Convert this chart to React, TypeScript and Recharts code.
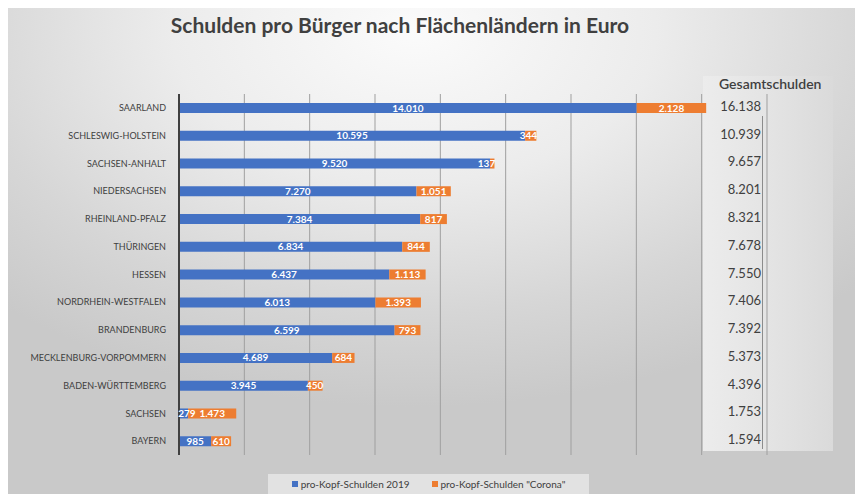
import React from "react";
import { BarChart, Bar, XAxis, YAxis, CartesianGrid, LabelList, Legend } from "recharts";

const states = [
  "SAARLAND",
  "SCHLESWIG-HOLSTEIN",
  "SACHSEN-ANHALT",
  "NIEDERSACHSEN",
  "RHEINLAND-PFALZ",
  "THÜRINGEN",
  "HESSEN",
  "NORDRHEIN-WESTFALEN",
  "BRANDENBURG",
  "MECKLENBURG-VORPOMMERN",
  "BADEN-WÜRTTEMBERG",
  "SACHSEN",
  "BAYERN",
];
const debt2019 = [14010, 10595, 9520, 7270, 7384, 6834, 6437, 6013, 6599, 4689, 3945, 279, 985];
const debtCorona = [2128, 344, 137, 1051, 817, 844, 1113, 1393, 793, 684, 450, 1473, 610];
const totals = [16138, 10939, 9657, 8201, 8321, 7678, 7550, 7406, 7392, 5373, 4396, 1753, 1594];
const xTicks = [0, 2000, 4000, 6000, 8000, 10000, 12000, 14000, 16000];
const seriesNames = ["pro-Kopf-Schulden 2019", 'pro-Kopf-Schulden "Corona"'];

const fmt = (n: number) => String(n).replace(/\B(?=(\d{3})+(?!\d))/g, ".");

const data = states.map((s, i) => ({
  state: s,
  v2019: debt2019[i],
  vCorona: debtCorona[i],
  total: fmt(totals[i]),
}));

const FONT = "Lato, 'Open Sans', sans-serif";
const TEXT = "#404040";

// label centred on its segment, but kept inside the whole stacked bar
const makeLabel = (series: "a" | "b") => (props: any) => {
  const { x, y, width, height, value, index } = props;
  const row = data[index];
  const scale = width / value;
  const start = series === "a" ? x : x - row.v2019 * scale;
  const end = start + (row.v2019 + row.vCorona) * scale;
  const text = fmt(value);
  const w = text.length * 5.3;
  let cx = x + width / 2;
  if (cx + w / 2 > end) cx = end - w / 2;
  if (cx - w / 2 < start) cx = start + w / 2;
  return (
    <text
      x={cx}
      y={y + height / 2 + 3.5}
      textAnchor="middle"
      fill="#fff"
      fontSize={10}
      fontWeight={700}
      fontFamily={FONT}
    >
      {text}
    </text>
  );
};

const TotalTick = (props: any) => {
  const { x, y, payload } = props;
  return (
    <text x={x - 6} y={y + 3} textAnchor="end" fill={TEXT} fontSize={13} fontFamily={FONT}>
      {payload.value}
    </text>
  );
};

const renderLegend = (props: any) => {
  const items = [...(props.payload || [])].sort(
    (a: any, b: any) => seriesNames.indexOf(a.value) - seriesNames.indexOf(b.value)
  );
  return (
    <div
      style={{
        display: "flex",
        justifyContent: "center",
        alignItems: "center",
        height: 20,
        gap: 22,
        fontFamily: FONT,
        fontSize: 10,
        color: TEXT,
      }}
    >
      {items.map((p: any) => (
        <span key={p.value} style={{ display: "flex", alignItems: "center" }}>
          <span style={{ width: 6, height: 6, background: p.color, marginRight: 3, display: "inline-block" }} />
          {p.value}
        </span>
      ))}
    </div>
  );
};

export default function App() {
  return (
    <div
      style={{
        position: "relative",
        width: 863,
        height: 502,
        margin: -8,
        overflow: "hidden",
        background:
          "radial-gradient(ellipse 70% 75% at 48% 6%, #fbfbfb 0%, #ececec 40%, #d6d6d6 75%, #c9c9c9 100%)",
        borderTop: "1px solid #b0b0b0",
        boxSizing: "border-box",
      }}
    >
      <div
        style={{
          position: "absolute",
          left: 0,
          width: 800,
          top: 11,
          textAlign: "center",
          fontFamily: FONT,
          fontWeight: 700,
          fontSize: 21,
          color: TEXT,
        }}
      >
        Schulden pro Bürger nach Flächenländern in Euro
      </div>
      <div
        style={{
          position: "absolute",
          left: 703,
          top: 75,
          width: 130,
          height: 375,
          background: "linear-gradient(90deg, #ececec 0%, #e4e4e4 50%, #dadada 100%)",
        }}
      />
      <div
        style={{
          position: "absolute",
          left: 762,
          top: 115,
          width: 1,
          height: 333,
          background: "#8c8c8c",
        }}
      />
      <div
        style={{
          position: "absolute",
          left: 719,
          top: 74,
          fontFamily: FONT,
          fontWeight: 600,
          fontSize: 14,
          color: TEXT,
        }}
      >
        Gesamtschulden
      </div>
      <div style={{ position: "absolute", left: 861, top: 0, width: 2, height: 502, background: "#9a9a9a" }} />
      <div style={{ position: "absolute", left: 0, top: 0 }}>
        <BarChart
          width={863}
          height={502}
          data={data}
          layout="vertical"
          margin={{ top: 93, right: 36, bottom: 48, left: 0 }}
          barSize={10}
        >
          <CartesianGrid horizontal={false} vertical={true} stroke="#9f9f9f" />
          <XAxis
            type="number"
            domain={[0, 18000]}
            ticks={xTicks}
            tick={() => <g />}
            axisLine={false}
            tickLine={false}
            height={0}
          />
          <YAxis
            type="category"
            dataKey="state"
            width={179}
            interval={0}
            axisLine={{ stroke: "#404040", strokeWidth: 2 }}
            tickLine={false}
            tickMargin={7}
            tick={{ fontSize: 9, fill: TEXT, fontFamily: FONT }}
          />
          <YAxis
            yAxisId="total"
            orientation="right"
            type="category"
            dataKey="total"
            width={60}
            interval={0}
            axisLine={false}
            tickLine={false}
            tickSize={0}
            tickMargin={0}
            tick={<TotalTick />}
          />
          <Bar dataKey="v2019" stackId="a" name={seriesNames[0]} fill="#4472C4" isAnimationActive={false}>
            <LabelList dataKey="v2019" content={makeLabel("a")} />
          </Bar>
          <Bar dataKey="vCorona" stackId="a" name={seriesNames[1]} fill="#ED7D31" isAnimationActive={false}>
            <LabelList dataKey="vCorona" content={makeLabel("b")} />
          </Bar>
          <Legend
            layout="horizontal"
            verticalAlign="middle"
            content={renderLegend}
            wrapperStyle={{ left: 268, top: 473, width: 321, height: 20, background: "#e2e2e2" }}
          />
        </BarChart>
      </div>
    </div>
  );
}
